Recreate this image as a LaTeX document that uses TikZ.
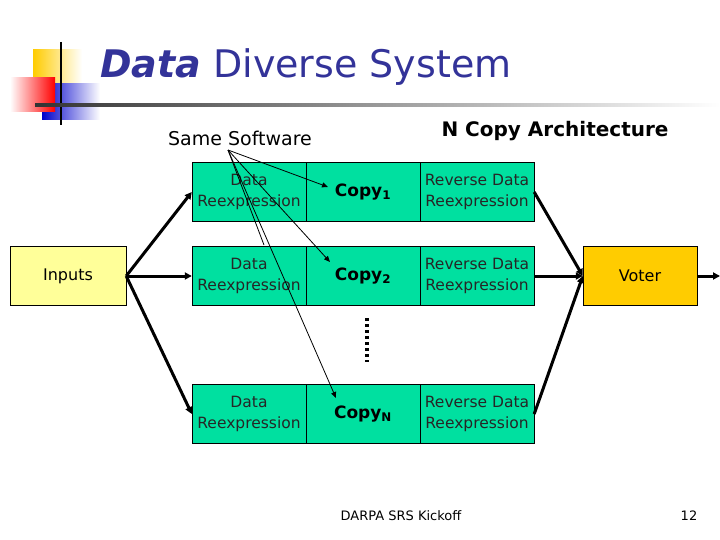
\documentclass[tikz,border=0pt]{standalone}
\usepackage{fontspec}
\setmainfont{DejaVu Sans}
\usetikzlibrary{arrows.meta}
\definecolor{mint}{HTML}{00E0A0}
\definecolor{gold}{HTML}{FFCC00}
\definecolor{pale}{HTML}{FFFF99}
\definecolor{navy}{HTML}{333399}
\begin{document}
\begin{tikzpicture}[x=1pt,y=-1pt,
  box/.style={draw=black,fill=mint,minimum width=114pt,minimum height=59pt,inner sep=0pt,font=\fontsize{15.5}{21}\selectfont,align=center,text=black!85},
  thick arrow/.style={line width=3pt,-{Triangle[length=7pt,width=7pt]}},
  thin arrow/.style={line width=0.8pt,-{Triangle[length=6pt,width=5pt]}}]
\useasboundingbox (0,0) rectangle (720,540);
% logo
\shade[left color=gold,right color=white] (33,50) rectangle (82,92);
\shade[left color=blue!80!black,right color=white] (42,84) rectangle (100,120);
\shade[right color=red,left color=white] (10,78) rectangle (55,112);
\draw[line width=2pt] (61,42) -- (61,125);
\shade[left color=black!80,right color=white] (35,103.5) rectangle (720,106.5);
\node[anchor=base west,text=navy,font=\fontsize{38}{40}\selectfont,inner sep=0pt] (title) at (100,78) {\textbf{\textit{Data}} Diverse System};
% labels
\node[font=\fontsize{19}{20}\selectfont] (same) at (240,138) {Same Software};
\node[font=\bfseries\fontsize{20}{22}\selectfont] (ncopy) at (555,131) {N Copy Architecture};
% boxes
\foreach \r/\y/\s in {1/192/1,2/276/2,3/414/N}{
  \node[box] (d\r) at (249,\y) {Data\\Reexpression};
  \node[box] (c\r) at (363,\y) {};
  \node[box] (r\r) at (477,\y) {Reverse Data\\Reexpression};
}
\node[font=\bfseries\fontsize{17}{18}\selectfont] (cl1) at (c1) {Copy$_{\mathbf 1}$};
\node[font=\bfseries\fontsize{17}{18}\selectfont] (cl2) at (c2) {Copy$_{\mathbf 2}$};
\node[font=\bfseries\fontsize{17}{18}\selectfont] (cl3) at (c3) {Copy$_{\mathbf N}$};
\node[draw,fill=pale,minimum width=116pt,minimum height=59pt,font=\fontsize{16}{18}\selectfont] (in) at (68,276) {Inputs};
\node[draw,fill=gold,minimum width=114pt,minimum height=59pt,font=\fontsize{16}{18}\selectfont] (vot) at (640,276) {Voter};
\coordinate (out) at (720,276);
\coordinate (dots1) at (367,318);
\coordinate (dots2) at (367,362);
\draw[line width=4pt,dash pattern=on 3pt off 3pt] (dots1) -- (dots2);
% arrows
\foreach \r in {1,2,3}{
  \draw[thick arrow] (in.east) -- (d\r.west);
  \draw[thick arrow] (r\r.east) -- (vot.west);
}
\draw[thick arrow] (vot.east) -- (out);
\coordinate (sp) at (228,150);
\draw[thin arrow] (sp) -- (328,187);
\draw[thin arrow] (sp) -- (330,262);
\draw[thin arrow] (sp) -- (336,398);
\draw[line width=0.8pt] (sp) -- (264,245);
% footer
\node[font=\fontsize{13}{14}\selectfont] (foot) at (401,516) {DARPA SRS Kickoff};
\node[font=\fontsize{13}{14}\selectfont] (pg) at (689,516) {12};
\end{tikzpicture}
\end{document}
